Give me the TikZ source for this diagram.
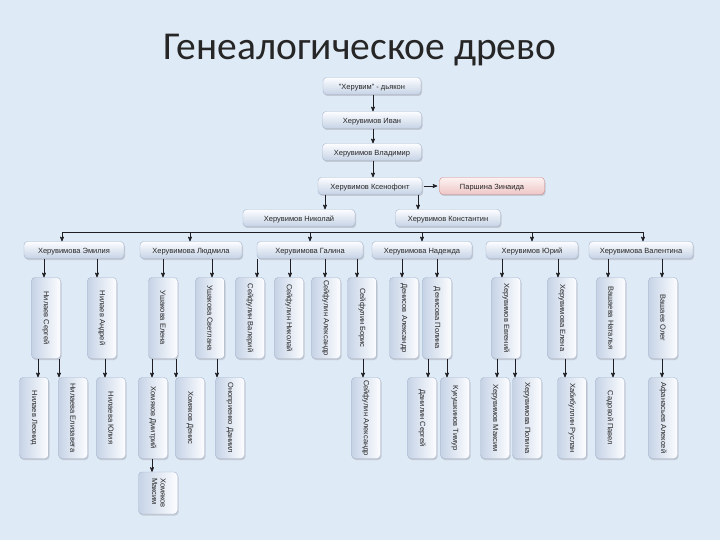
\documentclass[tikz,border=0pt]{standalone}
\usepackage{fontspec}
\setmainfont{Liberation Sans}
\newfontfamily\titlefont{Carlito}
\usepackage{graphicx}
\usetikzlibrary{arrows, shadows}

\definecolor{bgblue}{RGB}{223,234,247}
\definecolor{boxtop}{RGB}{252,253,255}
\definecolor{boxbot}{RGB}{198,211,230}
\definecolor{boxline}{RGB}{165,180,204}
\definecolor{pinktop}{RGB}{253,242,242}
\definecolor{pinkbot}{RGB}{238,198,198}
\definecolor{pinkline}{RGB}{205,135,135}
\definecolor{linkcol}{RGB}{30,30,35}

\newcommand{\vtext}[1]{\rotatebox{-90}{#1}}

\tikzset{
  card/.style={draw=boxline, rounded corners=3.5pt, inner sep=1pt,
    font=\fontsize{7.5}{8.5}\selectfont, text=black!85,
    drop shadow={opacity=0.3, shadow xshift=1pt, shadow yshift=-1.5pt}},
  person/.style={card, top color=boxtop, bottom color=boxbot,
    minimum height=17pt, text height=1.6ex, text depth=.3ex},
  spouse/.style={person, draw=pinkline, top color=pinktop, bottom color=pinkbot},
  vperson/.style={card, left color=boxbot, right color=boxtop,
    minimum width=29pt, minimum height=81pt},
  link/.style={draw=linkcol, line width=0.7pt}
}

\begin{document}
\begin{tikzpicture}[x=1pt,y=-1pt,>=stealth']
\useasboundingbox[fill=bgblue] (0,0) rectangle (720,540);

\node[font=\titlefont\fontsize{39.5}{42}\selectfont, text=black!85] (title) at (360,50) {Генеалогическое древо};

% top line
\node[person, minimum width=98pt] (deacon) at (372,86) {"Херувим" - дьякон};
\node[person, minimum width=99pt] (ivan) at (372,120) {Херувимов Иван};
\node[person, minimum width=99pt] (vladimir) at (372,152) {Херувимов Владимир};
\node[person, minimum width=104pt] (ksen) at (370,186) {Херувимов Ксенофонт};
\node[spouse, minimum width=105pt] (zinaida) at (492,186) {Паршина Зинаида};
\node[person, minimum width=112pt] (nikolai) at (299,218) {Херувимов Николай};
\node[person, minimum width=105pt] (konst) at (448,218) {Херувимов Константин};

% grandchildren
\node[person, minimum width=100pt] (emilia) at (74,250) {Херувимова Эмилия};
\node[person, minimum width=102pt] (lyudmila) at (191,250) {Херувимова Людмила};
\node[person, minimum width=106pt] (galina) at (310,250) {Херувимова Галина};
\node[person, minimum width=100pt] (nadezhda) at (422,250) {Херувимова Надежда};
\node[person, minimum width=92pt] (yuri) at (532,250) {Херувимов Юрий};
\node[person, minimum width=104pt] (valentina) at (641,250) {Херувимова Валентина};

% next generation
\node[vperson] (nsergei) at (46,318) {\vtext{Нилаев Сергей}};
\node[vperson] (nandrei) at (102,318) {\vtext{Нилаев Андрей}};
\node[vperson] (uelena) at (163,318) {\vtext{Ушакова Елена}};
\node[vperson] (usvetlana) at (210,318) {\vtext{Ушакова Светлана}};
\node[vperson] (sval) at (250,318) {\vtext{Сейфулин Валерий}};
\node[vperson] (snik) at (289,318) {\vtext{Сейфулин Николай}};
\node[vperson] (salex) at (326,318) {\vtext{Сейфулин Александр}};
\node[vperson] (sboris) at (362,318) {\vtext{Сейфулин Борис}};
\node[vperson] (dalex) at (404,318) {\vtext{Денисов Александр}};
\node[vperson] (dpolina) at (437,318) {\vtext{Денисова Полина}};
\node[vperson] (hevg) at (506,318) {\vtext{Херувимов Евгений}};
\node[vperson] (helena) at (562,318) {\vtext{Херувимова Елена}};
\node[vperson] (vnat) at (611,318) {\vtext{Вашаева Наталья}};
\node[vperson] (voleg) at (663,318) {\vtext{Вашаев Олег}};

% youngest
\node[vperson] (nleonid) at (34,418) {\vtext{Нилаев Леонид}};
\node[vperson] (nelizaveta) at (73,418) {\vtext{Нилаева Елизавета}};
\node[vperson] (nyulia) at (111,418) {\vtext{Нилаева Юлия}};
\node[vperson] (hdmitri) at (153,418) {\vtext{Хомяков Дмитрий}};
\node[vperson] (hdenis) at (190,418) {\vtext{Хомяков Денис}};
\node[vperson] (odaniil) at (230,418) {\vtext{Оноприенко Даниил}};
\node[vperson] (salex2) at (366,418) {\vtext{Сейфулин Александр}};
\node[vperson] (dsergei) at (422,418) {\vtext{Данилин Сергей}};
\node[vperson] (ktimur) at (455,418) {\vtext{Кукушкинов Тимур}};
\node[vperson] (hmaxim) at (495,418) {\vtext{Херувимов Максим}};
\node[vperson] (hpolina) at (527,418) {\vtext{Херувимова Полина}};
\node[vperson] (hruslan) at (572,418) {\vtext{Хабибуллин Руслан}};
\node[vperson] (spavel) at (610,418) {\vtext{Садовой Павел}};
\node[vperson] (aaleksei) at (663,418) {\vtext{Афанасьев Алексей}};
\node[vperson, minimum width=39pt, minimum height=42pt] (khmaxim) at (158,493)
  {\vtext{\begin{tabular}{@{}l@{}}Хомяков\\Максим\end{tabular}}};

% links
\draw[link,->,shorten <=2pt,shorten >=2pt] (ksen.east) -- (zinaida.west);
\coordinate (busl) at (62,232);
\coordinate (busr) at (643,232);
\draw[link] (busl) -- (busr);
\foreach \c/\x in {emilia/62, lyudmila/190, galina/310, nadezhda/422, yuri/532, valentina/643}
  {\coordinate (t) at (\x,0);
   \draw[link,->] (busl -| t) -- (\c.north -| t);}
\foreach \p/\c/\x in {deacon/ivan/373, ivan/vladimir/373, vladimir/ksen/373,
    ksen/nikolai/325, ksen/konst/418,
    emilia/nsergei/44, emilia/nandrei/97, lyudmila/uelena/163, lyudmila/usvetlana/212,
    galina/sval/257, galina/snik/290, galina/salex/325, galina/sboris/357,
    nadezhda/dalex/402, nadezhda/dpolina/437, yuri/hevg/502, yuri/helena/558,
    valentina/vnat/608, valentina/voleg/662,
    nsergei/nleonid/38, nsergei/nelizaveta/59, nandrei/nyulia/105,
    uelena/hdmitri/152, uelena/hdenis/176, usvetlana/odaniil/217,
    sboris/salex2/363, dpolina/dsergei/428, dpolina/ktimur/447,
    hevg/hmaxim/497, hevg/hpolina/515, helena/hruslan/565,
    vnat/spavel/613, voleg/aaleksei/662, hdmitri/khmaxim/152}
  {\coordinate (t) at (\x,0);
   \draw[link,->] (\p.south -| t) -- (\c.north -| t);}
\end{tikzpicture}
\end{document}
